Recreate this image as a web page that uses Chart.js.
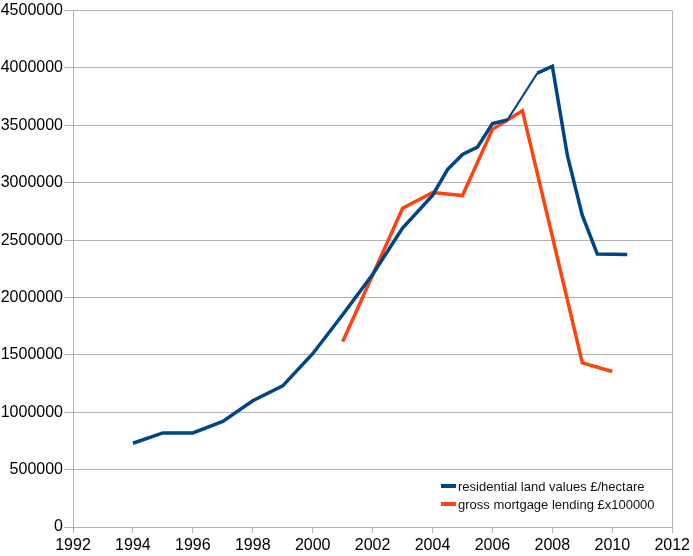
<!DOCTYPE html>
<html>
<head>
<meta charset="utf-8">
<script src="https://cdn.jsdelivr.net/npm/chart.js@4.4.1/dist/chart.umd.min.js"></script>
<style>
    html, body { margin: 0; padding: 0; background: #fff; }
    #wrap { width: 693px; height: 556px; position: relative; }
</style>
</head>
<body>
<div id="wrap"><canvas id="chart"></canvas></div>
<script>
const landYears = [1994, 1995, 1996, 1997, 1998, 1999, 2000, 2001, 2002, 2003, 2004, 2004.5, 2005, 2005.5, 2006, 2006.5, 2007.5, 2008, 2008.5, 2009, 2009.5, 2010.5];
const landValues = [730000, 820000, 820000, 920000, 1100000, 1230000, 1510000, 1850000, 2200000, 2605000, 2890000, 3115000, 3246000, 3310000, 3515000, 3548000, 3955000, 4015000, 3240000, 2715000, 2378000, 2375000];

const lendYears = [2001, 2002, 2003, 2004, 2005, 2006, 2007, 2008, 2009, 2010];
const lendValues = [1615000, 2195000, 2778000, 2915000, 2888000, 3465000, 3628000, 2530000, 1430000, 1355000];

const seriesLabels = ['residential land values £/hectare', 'gross mortgage lending £x100000'];
const xTicks = { min: 1992, max: 2012, step: 2 };
const yTicks = { min: 0, max: 4500000, step: 500000 };

const gridGray = '#b3b3b3';
const font = { family: '"Liberation Sans", Arial, sans-serif', size: 16 };

const toPoints = (xs, ys) => xs.map((x, i) => ({ x, y: ys[i] }));

// legend sits inside the plot, lower right, like the original
const insideLegend = {
    id: 'insideLegend',
    afterDraw(chart) {
        const { ctx, chartArea } = chart;
        const left = chartArea.left + 368;
        const top = chartArea.bottom - 41;
        ctx.save();
        ctx.font = '13px "Liberation Sans", Arial, sans-serif';
        ctx.textBaseline = 'middle';
        chart.data.datasets.forEach((ds, i) => {
            const y = top + i * 18;
            ctx.fillStyle = ds.borderColor;
            ctx.fillRect(left, y - 2, 15, 4);
            ctx.fillStyle = '#111';
            ctx.fillText(ds.label, left + 17, y + 1);
        });
        ctx.restore();
    },
};

new Chart(document.getElementById('chart'), {
    type: 'line',
    data: {
        datasets: [
            {
                label: seriesLabels[0],
                data: toPoints(landYears, landValues),
                borderColor: '#004586',
                borderWidth: 3.5,
                pointRadius: 0,
                tension: 0,
                segment: {
                    borderWidth: (ctx) => (ctx.p0DataIndex === 15 ? 2 : 3.5),
                },
            },
            {
                label: seriesLabels[1],
                data: toPoints(lendYears, lendValues),
                borderColor: '#ff420e',
                borderWidth: 3.5,
                pointRadius: 0,
                tension: 0,
            },
        ],
    },
    options: {
        responsive: true,
        maintainAspectRatio: false,
        animation: false,
        layout: { padding: { top: 10, right: 20, left: 0, bottom: 0 } },
        plugins: {
            legend: { display: false },
            tooltip: { enabled: false },
        },
        scales: {
            x: {
                type: 'linear',
                min: xTicks.min,
                max: xTicks.max,
                ticks: {
                    stepSize: xTicks.step,
                    color: '#000',
                    font,
                    padding: 3,
                    maxRotation: 0,
                    callback: (v) => String(v),
                },
                grid: {
                    color: (ctx) => (ctx.tick && ctx.tick.value === xTicks.max ? gridGray : 'rgba(0,0,0,0)'),
                    tickColor: gridGray,
                    tickLength: 6,
                },
                border: { color: gridGray },
                afterFit: (scale) => { scale.height = 29; },
            },
            y: {
                min: yTicks.min,
                max: yTicks.max,
                ticks: {
                    stepSize: yTicks.step,
                    color: '#000',
                    font,
                    padding: 1,
                    callback: (v) => String(v),
                },
                grid: {
                    color: gridGray,
                    tickColor: gridGray,
                    tickLength: 9,
                },
                border: { color: gridGray },
                afterFit: (scale) => { scale.width = 73; },
            },
        },
    },
    plugins: [insideLegend],
});
</script>
</body>
</html>
